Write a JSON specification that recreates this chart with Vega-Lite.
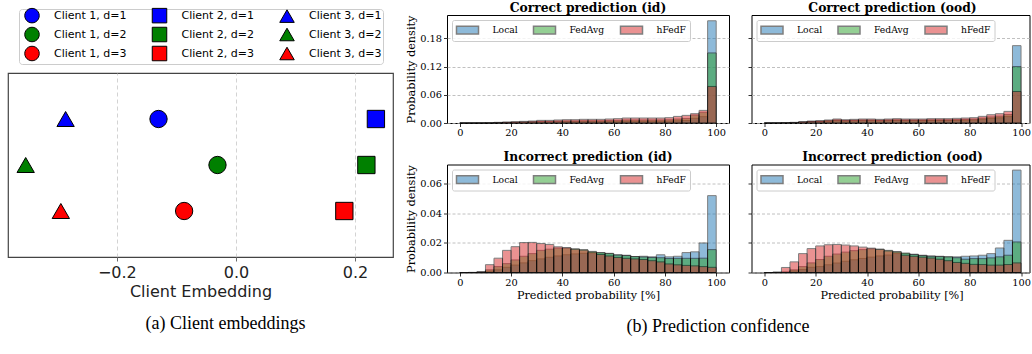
{
  "$schema": "https://vega.github.io/schema/vega-lite/v6.json",
  "background": "white",
  "padding": {"left": 7, "top": 1, "right": 0, "bottom": 0},
  "spacing": 11,
  "config": {
    "font": "DejaVu Serif",
    "axis": {"domain": false, "tickColor": "black", "tickSize": 3.5, "tickWidth": 0.8, "labelColor": "black", "titleColor": "black", "titleFontWeight": "normal", "labelPadding": 2},
    "title": {"color": "black"}
  },
  "datasets": {
    "clients": [
      {"label": "Client 1, d=1", "client": 1, "d": 1, "embedding": -0.130},
      {"label": "Client 2, d=1", "client": 2, "d": 1, "embedding": 0.235},
      {"label": "Client 3, d=1", "client": 3, "d": 1, "embedding": -0.286},
      {"label": "Client 1, d=2", "client": 1, "d": 2, "embedding": -0.031},
      {"label": "Client 2, d=2", "client": 2, "d": 2, "embedding": 0.219},
      {"label": "Client 3, d=2", "client": 3, "d": 2, "embedding": -0.353},
      {"label": "Client 1, d=3", "client": 1, "d": 3, "embedding": -0.087},
      {"label": "Client 2, d=3", "client": 2, "d": 3, "embedding": 0.182},
      {"label": "Client 3, d=3", "client": 3, "d": 3, "embedding": -0.294}
    ],
    "tl": [
      {"lo": 0, "hi": 3.333, "Local": 0, "FedAvg": 0, "hFedF": 0},
      {"lo": 3.333, "hi": 6.667, "Local": 0, "FedAvg": 0, "hFedF": 0},
      {"lo": 6.667, "hi": 10, "Local": 0, "FedAvg": 0.0001, "hFedF": 0.0001},
      {"lo": 10, "hi": 13.333, "Local": 0.0001, "FedAvg": 0.0002, "hFedF": 0.0004},
      {"lo": 13.333, "hi": 16.667, "Local": 0.0005, "FedAvg": 0.0008, "hFedF": 0.0014},
      {"lo": 16.667, "hi": 20, "Local": 0.0007, "FedAvg": 0.0013, "hFedF": 0.0021},
      {"lo": 20, "hi": 23.333, "Local": 0.0009, "FedAvg": 0.0017, "hFedF": 0.0028},
      {"lo": 23.333, "hi": 26.667, "Local": 0.0012, "FedAvg": 0.0021, "hFedF": 0.0035},
      {"lo": 26.667, "hi": 30, "Local": 0.0014, "FedAvg": 0.0025, "hFedF": 0.0042},
      {"lo": 30, "hi": 33.333, "Local": 0.0018, "FedAvg": 0.0034, "hFedF": 0.0056},
      {"lo": 33.333, "hi": 36.667, "Local": 0.0019, "FedAvg": 0.0034, "hFedF": 0.0056},
      {"lo": 36.667, "hi": 40, "Local": 0.0021, "FedAvg": 0.0038, "hFedF": 0.0064},
      {"lo": 40, "hi": 43.333, "Local": 0.0023, "FedAvg": 0.0042, "hFedF": 0.0070},
      {"lo": 43.333, "hi": 46.667, "Local": 0.0023, "FedAvg": 0.0042, "hFedF": 0.0070},
      {"lo": 46.667, "hi": 50, "Local": 0.0026, "FedAvg": 0.0047, "hFedF": 0.0078},
      {"lo": 50, "hi": 53.333, "Local": 0.0026, "FedAvg": 0.0047, "hFedF": 0.0078},
      {"lo": 53.333, "hi": 56.667, "Local": 0.0026, "FedAvg": 0.0047, "hFedF": 0.0078},
      {"lo": 56.667, "hi": 60, "Local": 0.0028, "FedAvg": 0.0051, "hFedF": 0.0085},
      {"lo": 60, "hi": 63.333, "Local": 0.0030, "FedAvg": 0.0055, "hFedF": 0.0092},
      {"lo": 63.333, "hi": 66.667, "Local": 0.0035, "FedAvg": 0.0064, "hFedF": 0.0106},
      {"lo": 66.667, "hi": 70, "Local": 0.0035, "FedAvg": 0.0064, "hFedF": 0.0106},
      {"lo": 70, "hi": 73.333, "Local": 0.0035, "FedAvg": 0.0064, "hFedF": 0.0106},
      {"lo": 73.333, "hi": 76.667, "Local": 0.0035, "FedAvg": 0.0064, "hFedF": 0.0106},
      {"lo": 76.667, "hi": 80, "Local": 0.0035, "FedAvg": 0.0064, "hFedF": 0.0106},
      {"lo": 80, "hi": 83.333, "Local": 0.0037, "FedAvg": 0.0068, "hFedF": 0.0113},
      {"lo": 83.333, "hi": 86.667, "Local": 0.0046, "FedAvg": 0.0084, "hFedF": 0.0140},
      {"lo": 86.667, "hi": 90, "Local": 0.0053, "FedAvg": 0.0097, "hFedF": 0.0162},
      {"lo": 90, "hi": 93.333, "Local": 0.0099, "FedAvg": 0.0168, "hFedF": 0.0198},
      {"lo": 93.333, "hi": 96.667, "Local": 0.0134, "FedAvg": 0.0228, "hFedF": 0.0268},
      {"lo": 96.667, "hi": 100, "Local": 0.2174, "FedAvg": 0.1490, "hFedF": 0.0777}
    ],
    "tr": [
      {"lo": 0, "hi": 3.333, "Local": 0, "FedAvg": 0, "hFedF": 0},
      {"lo": 3.333, "hi": 6.667, "Local": 0.0001, "FedAvg": 0.0001, "hFedF": 0.0002},
      {"lo": 6.667, "hi": 10, "Local": 0.0004, "FedAvg": 0.0005, "hFedF": 0.0007},
      {"lo": 10, "hi": 13.333, "Local": 0.0008, "FedAvg": 0.0010, "hFedF": 0.0014},
      {"lo": 13.333, "hi": 16.667, "Local": 0.0015, "FedAvg": 0.0020, "hFedF": 0.0028},
      {"lo": 16.667, "hi": 20, "Local": 0.0023, "FedAvg": 0.0031, "hFedF": 0.0042},
      {"lo": 20, "hi": 23.333, "Local": 0.0028, "FedAvg": 0.0037, "hFedF": 0.0050},
      {"lo": 23.333, "hi": 26.667, "Local": 0.0035, "FedAvg": 0.0047, "hFedF": 0.0064},
      {"lo": 26.667, "hi": 30, "Local": 0.0047, "FedAvg": 0.0062, "hFedF": 0.0085},
      {"lo": 30, "hi": 33.333, "Local": 0.0039, "FedAvg": 0.0051, "hFedF": 0.0070},
      {"lo": 33.333, "hi": 36.667, "Local": 0.0043, "FedAvg": 0.0057, "hFedF": 0.0078},
      {"lo": 36.667, "hi": 40, "Local": 0.0047, "FedAvg": 0.0062, "hFedF": 0.0085},
      {"lo": 40, "hi": 43.333, "Local": 0.0047, "FedAvg": 0.0062, "hFedF": 0.0085},
      {"lo": 43.333, "hi": 46.667, "Local": 0.0043, "FedAvg": 0.0057, "hFedF": 0.0078},
      {"lo": 46.667, "hi": 50, "Local": 0.0047, "FedAvg": 0.0062, "hFedF": 0.0085},
      {"lo": 50, "hi": 53.333, "Local": 0.0051, "FedAvg": 0.0067, "hFedF": 0.0092},
      {"lo": 53.333, "hi": 56.667, "Local": 0.0047, "FedAvg": 0.0062, "hFedF": 0.0085},
      {"lo": 56.667, "hi": 60, "Local": 0.0047, "FedAvg": 0.0062, "hFedF": 0.0085},
      {"lo": 60, "hi": 63.333, "Local": 0.0047, "FedAvg": 0.0062, "hFedF": 0.0085},
      {"lo": 63.333, "hi": 66.667, "Local": 0.0051, "FedAvg": 0.0067, "hFedF": 0.0092},
      {"lo": 66.667, "hi": 70, "Local": 0.0051, "FedAvg": 0.0067, "hFedF": 0.0092},
      {"lo": 70, "hi": 73.333, "Local": 0.0051, "FedAvg": 0.0067, "hFedF": 0.0092},
      {"lo": 73.333, "hi": 76.667, "Local": 0.0054, "FedAvg": 0.0072, "hFedF": 0.0099},
      {"lo": 76.667, "hi": 80, "Local": 0.0058, "FedAvg": 0.0077, "hFedF": 0.0106},
      {"lo": 80, "hi": 83.333, "Local": 0.0062, "FedAvg": 0.0082, "hFedF": 0.0113},
      {"lo": 83.333, "hi": 86.667, "Local": 0.0078, "FedAvg": 0.0103, "hFedF": 0.0141},
      {"lo": 86.667, "hi": 90, "Local": 0.0097, "FedAvg": 0.0128, "hFedF": 0.0176},
      {"lo": 90, "hi": 93.333, "Local": 0.0109, "FedAvg": 0.0145, "hFedF": 0.0198},
      {"lo": 93.333, "hi": 96.667, "Local": 0.0136, "FedAvg": 0.0180, "hFedF": 0.0247},
      {"lo": 96.667, "hi": 100, "Local": 0.1645, "FedAvg": 0.1200, "hFedF": 0.0670}
    ],
    "bl": [
      {"lo": 0, "hi": 3.333, "Local": 0, "FedAvg": 0, "hFedF": 0},
      {"lo": 3.333, "hi": 6.667, "Local": 0, "FedAvg": 0, "hFedF": 0.0001},
      {"lo": 6.667, "hi": 10, "Local": 0.0001, "FedAvg": 0.0002, "hFedF": 0.0006},
      {"lo": 10, "hi": 13.333, "Local": 0.0008, "FedAvg": 0.0018, "hFedF": 0.0053},
      {"lo": 13.333, "hi": 16.667, "Local": 0.0018, "FedAvg": 0.0040, "hFedF": 0.0097},
      {"lo": 16.667, "hi": 20, "Local": 0.0035, "FedAvg": 0.0060, "hFedF": 0.0150},
      {"lo": 20, "hi": 23.333, "Local": 0.0050, "FedAvg": 0.0085, "hFedF": 0.0175},
      {"lo": 23.333, "hi": 26.667, "Local": 0.0065, "FedAvg": 0.0110, "hFedF": 0.0203},
      {"lo": 26.667, "hi": 30, "Local": 0.0080, "FedAvg": 0.0128, "hFedF": 0.0204},
      {"lo": 30, "hi": 33.333, "Local": 0.0092, "FedAvg": 0.0150, "hFedF": 0.0196},
      {"lo": 33.333, "hi": 36.667, "Local": 0.0103, "FedAvg": 0.0158, "hFedF": 0.0190},
      {"lo": 36.667, "hi": 40, "Local": 0.0112, "FedAvg": 0.0165, "hFedF": 0.0174},
      {"lo": 40, "hi": 43.333, "Local": 0.0120, "FedAvg": 0.0166, "hFedF": 0.0168},
      {"lo": 43.333, "hi": 46.667, "Local": 0.0126, "FedAvg": 0.0160, "hFedF": 0.0158},
      {"lo": 46.667, "hi": 50, "Local": 0.0130, "FedAvg": 0.0154, "hFedF": 0.0152},
      {"lo": 50, "hi": 53.333, "Local": 0.0132, "FedAvg": 0.0143, "hFedF": 0.0138},
      {"lo": 53.333, "hi": 56.667, "Local": 0.0133, "FedAvg": 0.0135, "hFedF": 0.0122},
      {"lo": 56.667, "hi": 60, "Local": 0.0128, "FedAvg": 0.0130, "hFedF": 0.0112},
      {"lo": 60, "hi": 63.333, "Local": 0.0120, "FedAvg": 0.0118, "hFedF": 0.0102},
      {"lo": 63.333, "hi": 66.667, "Local": 0.0117, "FedAvg": 0.0115, "hFedF": 0.0096},
      {"lo": 66.667, "hi": 70, "Local": 0.0108, "FedAvg": 0.0108, "hFedF": 0.0092},
      {"lo": 70, "hi": 73.333, "Local": 0.0110, "FedAvg": 0.0105, "hFedF": 0.0088},
      {"lo": 73.333, "hi": 76.667, "Local": 0.0106, "FedAvg": 0.0102, "hFedF": 0.0080},
      {"lo": 76.667, "hi": 80, "Local": 0.0120, "FedAvg": 0.0100, "hFedF": 0.0072},
      {"lo": 80, "hi": 83.333, "Local": 0.0106, "FedAvg": 0.0095, "hFedF": 0.0058},
      {"lo": 83.333, "hi": 86.667, "Local": 0.0110, "FedAvg": 0.0096, "hFedF": 0.0052},
      {"lo": 86.667, "hi": 90, "Local": 0.0135, "FedAvg": 0.0096, "hFedF": 0.0048},
      {"lo": 90, "hi": 93.333, "Local": 0.0140, "FedAvg": 0.0096, "hFedF": 0.0045},
      {"lo": 93.333, "hi": 96.667, "Local": 0.0200, "FedAvg": 0.0097, "hFedF": 0.0040},
      {"lo": 96.667, "hi": 100, "Local": 0.0521, "FedAvg": 0.0155, "hFedF": 0.0035}
    ],
    "br": [
      {"lo": 0, "hi": 3.333, "Local": 0, "FedAvg": 0, "hFedF": 0},
      {"lo": 3.333, "hi": 6.667, "Local": 0, "FedAvg": 0.0001, "hFedF": 0.0003},
      {"lo": 6.667, "hi": 10, "Local": 0.0002, "FedAvg": 0.0003, "hFedF": 0.0034},
      {"lo": 10, "hi": 13.333, "Local": 0.0010, "FedAvg": 0.0018, "hFedF": 0.0072},
      {"lo": 13.333, "hi": 16.667, "Local": 0.0020, "FedAvg": 0.0040, "hFedF": 0.0128},
      {"lo": 16.667, "hi": 20, "Local": 0.0035, "FedAvg": 0.0065, "hFedF": 0.0162},
      {"lo": 20, "hi": 23.333, "Local": 0.0040, "FedAvg": 0.0088, "hFedF": 0.0180},
      {"lo": 23.333, "hi": 26.667, "Local": 0.0052, "FedAvg": 0.0110, "hFedF": 0.0188},
      {"lo": 26.667, "hi": 30, "Local": 0.0064, "FedAvg": 0.0125, "hFedF": 0.0190},
      {"lo": 30, "hi": 33.333, "Local": 0.0076, "FedAvg": 0.0138, "hFedF": 0.0186},
      {"lo": 33.333, "hi": 36.667, "Local": 0.0086, "FedAvg": 0.0148, "hFedF": 0.0180},
      {"lo": 36.667, "hi": 40, "Local": 0.0095, "FedAvg": 0.0155, "hFedF": 0.0172},
      {"lo": 40, "hi": 43.333, "Local": 0.0104, "FedAvg": 0.0160, "hFedF": 0.0165},
      {"lo": 43.333, "hi": 46.667, "Local": 0.0112, "FedAvg": 0.0158, "hFedF": 0.0157},
      {"lo": 46.667, "hi": 50, "Local": 0.0118, "FedAvg": 0.0150, "hFedF": 0.0146},
      {"lo": 50, "hi": 53.333, "Local": 0.0128, "FedAvg": 0.0142, "hFedF": 0.0138},
      {"lo": 53.333, "hi": 56.667, "Local": 0.0128, "FedAvg": 0.0132, "hFedF": 0.0117},
      {"lo": 56.667, "hi": 60, "Local": 0.0124, "FedAvg": 0.0122, "hFedF": 0.0110},
      {"lo": 60, "hi": 63.333, "Local": 0.0117, "FedAvg": 0.0115, "hFedF": 0.0104},
      {"lo": 63.333, "hi": 66.667, "Local": 0.0112, "FedAvg": 0.0110, "hFedF": 0.0098},
      {"lo": 66.667, "hi": 70, "Local": 0.0110, "FedAvg": 0.0108, "hFedF": 0.0090},
      {"lo": 70, "hi": 73.333, "Local": 0.0106, "FedAvg": 0.0106, "hFedF": 0.0080},
      {"lo": 73.333, "hi": 76.667, "Local": 0.0106, "FedAvg": 0.0100, "hFedF": 0.0068},
      {"lo": 76.667, "hi": 80, "Local": 0.0110, "FedAvg": 0.0090, "hFedF": 0.0062},
      {"lo": 80, "hi": 83.333, "Local": 0.0112, "FedAvg": 0.0094, "hFedF": 0.0055},
      {"lo": 83.333, "hi": 86.667, "Local": 0.0117, "FedAvg": 0.0094, "hFedF": 0.0054},
      {"lo": 86.667, "hi": 90, "Local": 0.0128, "FedAvg": 0.0099, "hFedF": 0.0050},
      {"lo": 90, "hi": 93.333, "Local": 0.0166, "FedAvg": 0.0106, "hFedF": 0.0050},
      {"lo": 93.333, "hi": 96.667, "Local": 0.0218, "FedAvg": 0.0117, "hFedF": 0.0054},
      {"lo": 96.667, "hi": 100, "Local": 0.0694, "FedAvg": 0.0207, "hFedF": 0.0065}
    ]
  },
  "resolve": {
    "scale": {"color": "independent", "shape": "independent"},
    "legend": {"color": "independent", "shape": "independent"}
  },
  "hconcat": [
    {
      "spacing": 7,
      "resolve": {"scale": {"color": "independent", "shape": "independent"}, "legend": {"color": "independent", "shape": "independent"}},
      "vconcat": [
        {
          "width": 385,
          "height": 1,
          "view": {"stroke": null},
          "data": {"name": "clients"},
          "mark": {"type": "point", "filled": true, "size": 100, "opacity": 0},
          "encoding": {
            "color": {
              "field": "label", "type": "nominal",
              "scale": {
                "domain": ["Client 1, d=1", "Client 2, d=1", "Client 3, d=1", "Client 1, d=2", "Client 2, d=2", "Client 3, d=2", "Client 1, d=3", "Client 2, d=3", "Client 3, d=3"],
                "range": ["#0000ff", "#0000ff", "#0000ff", "#008000", "#008000", "#008000", "#ff0000", "#ff0000", "#ff0000"]
              },
              "legend": {
                "title": null, "orient": "none", "legendX": 11, "legendY": -6, "columns": 3, "direction": "horizontal",
                "symbolSize": 100, "labelFont": "DejaVu Sans", "labelFontSize": 11, "labelColor": "black", "labelLimit": 200,
                "symbolOffset": 6.5, "labelOffset": 16.5, "columnPadding": 20.5, "rowPadding": 0, "padding": 1,
                "fillColor": "white", "strokeColor": "#cccccc", "cornerRadius": 3,
                "symbolStrokeColor": "black", "symbolStrokeWidth": 1,
                "encode": {"symbols": {"update": {"stroke": {"value": "black"}, "strokeWidth": {"value": 1}, "size": {"value": 100}, "fillOpacity": {"value": 1}, "strokeOpacity": {"value": 1}, "opacity": {"value": 1}}}}
              }
            },
            "shape": {
              "field": "label", "type": "nominal",
              "scale": {
                "domain": ["Client 1, d=1", "Client 2, d=1", "Client 3, d=1", "Client 1, d=2", "Client 2, d=2", "Client 3, d=2", "Client 1, d=3", "Client 2, d=3", "Client 3, d=3"],
                "range": [
                  "M1.45,0L1.401,0.375L1.256,0.725L1.025,1.025L0.725,1.256L0.375,1.401L0,1.45L-0.375,1.401L-0.725,1.256L-1.025,1.025L-1.256,0.725L-1.401,0.375L-1.45,0L-1.401,-0.375L-1.256,-0.725L-1.025,-1.025L-0.725,-1.256L-0.375,-1.401L0,-1.45L0.375,-1.401L0.725,-1.256L1.025,-1.025L1.256,-0.725L1.401,-0.375Z",
                  "M-1.45,-1.45L1.45,-1.45L1.45,1.45L-1.45,1.45Z",
                  "M0,-1.256L1.45,1.256L-1.45,1.256Z",
                  "M1.45,0L1.401,0.375L1.256,0.725L1.025,1.025L0.725,1.256L0.375,1.401L0,1.45L-0.375,1.401L-0.725,1.256L-1.025,1.025L-1.256,0.725L-1.401,0.375L-1.45,0L-1.401,-0.375L-1.256,-0.725L-1.025,-1.025L-0.725,-1.256L-0.375,-1.401L0,-1.45L0.375,-1.401L0.725,-1.256L1.025,-1.025L1.256,-0.725L1.401,-0.375Z",
                  "M-1.45,-1.45L1.45,-1.45L1.45,1.45L-1.45,1.45Z",
                  "M0,-1.256L1.45,1.256L-1.45,1.256Z",
                  "M1.45,0L1.401,0.375L1.256,0.725L1.025,1.025L0.725,1.256L0.375,1.401L0,1.45L-0.375,1.401L-0.725,1.256L-1.025,1.025L-1.256,0.725L-1.401,0.375L-1.45,0L-1.401,-0.375L-1.256,-0.725L-1.025,-1.025L-0.725,-1.256L-0.375,-1.401L0,-1.45L0.375,-1.401L0.725,-1.256L1.025,-1.025L1.256,-0.725L1.401,-0.375Z",
                  "M-1.45,-1.45L1.45,-1.45L1.45,1.45L-1.45,1.45Z",
                  "M0,-1.256L1.45,1.256L-1.45,1.256Z"
                ]
              }
            }
          }
        },
        {
          "width": 385,
          "height": 184,
          "title": {"text": "(a) Client embeddings", "orient": "bottom", "anchor": "middle", "frame": "group", "font": "Liberation Serif", "fontSize": 18, "fontWeight": "normal", "offset": 16, "dx": 25},
          "view": {"stroke": "#444", "strokeWidth": 1.2},
          "data": {"name": "clients"},
          "mark": {"type": "point", "filled": true, "size": 300, "stroke": "black", "strokeWidth": 1, "opacity": 1},
          "encoding": {
            "x": {
              "field": "embedding", "type": "quantitative",
              "scale": {"domain": [-0.3827, 0.2637], "nice": false, "zero": false},
              "axis": {"title": "Client Embedding", "values": [-0.2, 0, 0.2], "format": ".1f", "labelFont": "DejaVu Sans", "labelFontSize": 16, "titleFont": "DejaVu Sans", "titleFontSize": 16, "labelColor": "#222", "titleColor": "#222", "tickColor": "#444", "tickSize": 4, "labelPadding": 3, "titlePadding": 3, "grid": true, "gridDash": [4, 3], "gridColor": "#c8c8c8", "gridWidth": 0.8}
            },
            "y": {"field": "d", "type": "quantitative", "scale": {"domain": [0, 4], "reverse": true, "nice": false}, "axis": null},
            "color": {
              "field": "label", "type": "nominal",
              "scale": {
                "domain": ["Client 1, d=1", "Client 2, d=1", "Client 3, d=1", "Client 1, d=2", "Client 2, d=2", "Client 3, d=2", "Client 1, d=3", "Client 2, d=3", "Client 3, d=3"],
                "range": ["#0000ff", "#0000ff", "#0000ff", "#008000", "#008000", "#008000", "#ff0000", "#ff0000", "#ff0000"]
              },
              "legend": null
            },
            "shape": {
              "field": "label", "type": "nominal",
              "scale": {
                "domain": ["Client 1, d=1", "Client 2, d=1", "Client 3, d=1", "Client 1, d=2", "Client 2, d=2", "Client 3, d=2", "Client 1, d=3", "Client 2, d=3", "Client 3, d=3"],
                "range": ["circle", "square", "triangle-up", "circle", "square", "triangle-up", "circle", "square", "triangle-up"]
              },
              "legend": null
            }
          }
        }
      ]
    },
    {
      "title": {"text": "(b) Prediction confidence", "orient": "bottom", "anchor": "middle", "frame": "bounds", "font": "Liberation Serif", "fontSize": 18, "fontWeight": "normal", "offset": 16},
      "spacing": 12.5,
      "resolve": {"scale": {"color": "independent"}, "legend": {"color": "independent"}},
      "vconcat": [
        {
          "spacing": 16.5,
          "resolve": {"scale": {"color": "independent"}, "legend": {"color": "independent"}},
          "hconcat": [
            {
              "width": 282, "height": 108,
              "title": {"text": "Correct prediction (id)", "font": "DejaVu Serif", "fontSize": 12.3, "fontWeight": "bold", "anchor": "middle", "frame": "group", "offset": 1},
              "view": {"stroke": "black", "strokeWidth": 1},
              "data": {"name": "tl"},
              "transform": [{"fold": ["Local", "FedAvg", "hFedF"], "as": ["method", "density"]}],
              "mark": {"type": "rect", "opacity": 0.5, "stroke": "black", "strokeWidth": 1},
              "encoding": {
                "x": {"field": "lo", "type": "quantitative", "scale": {"domain": [-5, 105], "nice": false, "zero": false}, "axis": {"title": null, "values": [0, 20, 40, 60, 80, 100], "labelFont": "DejaVu Serif", "labelFontSize": 9.8, "labelPadding": 1, "grid": false}},
                "x2": {"field": "hi"},
                "y": {"field": "density", "type": "quantitative", "scale": {"domain": [0, 0.2297], "nice": false}, "axis": {"title": "Probability density", "titleFont": "DejaVu Serif", "titleFontSize": 11.3, "titlePadding": 3, "values": [0, 0.06, 0.12, 0.18], "format": ".2f", "labelFont": "DejaVu Serif", "labelFontSize": 9.8, "grid": true, "gridDash": [3, 2], "gridColor": "#b0b0b0", "gridWidth": 0.8}},
                "y2": {"datum": 0},
                "color": {"field": "method", "type": "nominal", "scale": {"domain": ["Local", "FedAvg", "hFedF"], "range": ["#1f77b4", "#2ca02c", "#d62728"]},
                  "legend": {"title": null, "orient": "top-left", "offset": 4.5, "direction": "horizontal", "symbolType": "M-2.2,-0.78L2.2,-0.78L2.2,0.78L-2.2,0.78Z", "symbolSize": 100, "symbolOffset": 5.5, "labelOffset": 19, "labelFont": "DejaVu Serif", "labelFontSize": 9.2, "labelColor": "black", "columnPadding": 12, "padding": 4, "fillColor": "rgba(255,255,255,0.8)", "strokeColor": "#cccccc", "cornerRadius": 2, "symbolOpacity": 0.5,
                    "encode": {"symbols": {"update": {"stroke": {"value": "black"}, "strokeWidth": {"value": 1}, "opacity": {"value": 0.5}}}}}}
              }
            },
            {
              "width": 278, "height": 108,
              "title": {"text": "Correct prediction (ood)", "font": "DejaVu Serif", "fontSize": 12.3, "fontWeight": "bold", "anchor": "middle", "frame": "group", "offset": 1, "dx": 2},
              "view": {"stroke": "black", "strokeWidth": 1},
              "data": {"name": "tr"},
              "transform": [{"fold": ["Local", "FedAvg", "hFedF"], "as": ["method", "density"]}],
              "mark": {"type": "rect", "opacity": 0.5, "stroke": "black", "strokeWidth": 1},
              "encoding": {
                "x": {"field": "lo", "type": "quantitative", "scale": {"domain": [-5, 103.3], "nice": false, "zero": false}, "axis": {"title": null, "values": [0, 20, 40, 60, 80, 100], "labelFont": "DejaVu Serif", "labelFontSize": 9.8, "labelPadding": 1, "grid": false}},
                "x2": {"field": "hi"},
                "y": {"field": "density", "type": "quantitative", "scale": {"domain": [0, 0.2297], "nice": false}, "axis": {"title": null, "labels": false, "values": [0, 0.06, 0.12, 0.18], "grid": true, "gridDash": [3, 2], "gridColor": "#b0b0b0", "gridWidth": 0.8}},
                "y2": {"datum": 0},
                "color": {"field": "method", "type": "nominal", "scale": {"domain": ["Local", "FedAvg", "hFedF"], "range": ["#1f77b4", "#2ca02c", "#d62728"]},
                  "legend": {"title": null, "orient": "top-left", "offset": 4.5, "direction": "horizontal", "symbolType": "M-2.2,-0.78L2.2,-0.78L2.2,0.78L-2.2,0.78Z", "symbolSize": 100, "symbolOffset": 5.5, "labelOffset": 19, "labelFont": "DejaVu Serif", "labelFontSize": 9.2, "labelColor": "black", "columnPadding": 12, "padding": 4, "fillColor": "rgba(255,255,255,0.8)", "strokeColor": "#cccccc", "cornerRadius": 2, "symbolOpacity": 0.5,
                    "encode": {"symbols": {"update": {"stroke": {"value": "black"}, "strokeWidth": {"value": 1}, "opacity": {"value": 0.5}}}}}}
              }
            }
          ]
        },
        {
          "spacing": 16.5,
          "resolve": {"scale": {"color": "independent"}, "legend": {"color": "independent"}},
          "hconcat": [
            {
              "width": 282, "height": 108,
              "title": {"text": "Incorrect prediction (id)", "font": "DejaVu Serif", "fontSize": 12.3, "fontWeight": "bold", "anchor": "middle", "frame": "group", "offset": 1},
              "view": {"stroke": "black", "strokeWidth": 1},
              "data": {"name": "bl"},
              "transform": [{"fold": ["Local", "FedAvg", "hFedF"], "as": ["method", "density"]}],
              "mark": {"type": "rect", "opacity": 0.5, "stroke": "black", "strokeWidth": 1},
              "encoding": {
                "x": {"field": "lo", "type": "quantitative", "scale": {"domain": [-5, 105], "nice": false, "zero": false}, "axis": {"title": "Predicted probability [%]", "titleFont": "DejaVu Serif", "titleFontSize": 11.2, "titlePadding": 3, "values": [0, 20, 40, 60, 80, 100], "labelFont": "DejaVu Serif", "labelFontSize": 9.8, "labelPadding": 1, "grid": false}},
                "x2": {"field": "hi"},
                "y": {"field": "density", "type": "quantitative", "scale": {"domain": [0, 0.0732], "nice": false}, "axis": {"title": "Probability density", "titleFont": "DejaVu Serif", "titleFontSize": 11.3, "titlePadding": 3, "values": [0, 0.02, 0.04, 0.06], "format": ".2f", "labelFont": "DejaVu Serif", "labelFontSize": 9.8, "grid": true, "gridDash": [3, 2], "gridColor": "#b0b0b0", "gridWidth": 0.8}},
                "y2": {"datum": 0},
                "color": {"field": "method", "type": "nominal", "scale": {"domain": ["Local", "FedAvg", "hFedF"], "range": ["#1f77b4", "#2ca02c", "#d62728"]},
                  "legend": {"title": null, "orient": "top-left", "offset": 4.5, "direction": "horizontal", "symbolType": "M-2.2,-0.78L2.2,-0.78L2.2,0.78L-2.2,0.78Z", "symbolSize": 100, "symbolOffset": 5.5, "labelOffset": 19, "labelFont": "DejaVu Serif", "labelFontSize": 9.2, "labelColor": "black", "columnPadding": 12, "padding": 4, "fillColor": "rgba(255,255,255,0.8)", "strokeColor": "#cccccc", "cornerRadius": 2, "symbolOpacity": 0.5,
                    "encode": {"symbols": {"update": {"stroke": {"value": "black"}, "strokeWidth": {"value": 1}, "opacity": {"value": 0.5}}}}}}
              }
            },
            {
              "width": 278, "height": 108,
              "title": {"text": "Incorrect prediction (ood)", "font": "DejaVu Serif", "fontSize": 12.3, "fontWeight": "bold", "anchor": "middle", "frame": "group", "offset": 1, "dx": 2},
              "view": {"stroke": "black", "strokeWidth": 1},
              "data": {"name": "br"},
              "transform": [{"fold": ["Local", "FedAvg", "hFedF"], "as": ["method", "density"]}],
              "mark": {"type": "rect", "opacity": 0.5, "stroke": "black", "strokeWidth": 1},
              "encoding": {
                "x": {"field": "lo", "type": "quantitative", "scale": {"domain": [-5, 103.3], "nice": false, "zero": false}, "axis": {"title": "Predicted probability [%]", "titleFont": "DejaVu Serif", "titleFontSize": 11.2, "titlePadding": 3, "titleX": 140, "values": [0, 20, 40, 60, 80, 100], "labelFont": "DejaVu Serif", "labelFontSize": 9.8, "labelPadding": 1, "grid": false}},
                "x2": {"field": "hi"},
                "y": {"field": "density", "type": "quantitative", "scale": {"domain": [0, 0.0732], "nice": false}, "axis": {"title": null, "labels": false, "values": [0, 0.02, 0.04, 0.06], "grid": true, "gridDash": [3, 2], "gridColor": "#b0b0b0", "gridWidth": 0.8}},
                "y2": {"datum": 0},
                "color": {"field": "method", "type": "nominal", "scale": {"domain": ["Local", "FedAvg", "hFedF"], "range": ["#1f77b4", "#2ca02c", "#d62728"]},
                  "legend": {"title": null, "orient": "top-left", "offset": 4.5, "direction": "horizontal", "symbolType": "M-2.2,-0.78L2.2,-0.78L2.2,0.78L-2.2,0.78Z", "symbolSize": 100, "symbolOffset": 5.5, "labelOffset": 19, "labelFont": "DejaVu Serif", "labelFontSize": 9.2, "labelColor": "black", "columnPadding": 12, "padding": 4, "fillColor": "rgba(255,255,255,0.8)", "strokeColor": "#cccccc", "cornerRadius": 2, "symbolOpacity": 0.5,
                    "encode": {"symbols": {"update": {"stroke": {"value": "black"}, "strokeWidth": {"value": 1}, "opacity": {"value": 0.5}}}}}}
              }
            }
          ]
        }
      ]
    }
  ]
}
